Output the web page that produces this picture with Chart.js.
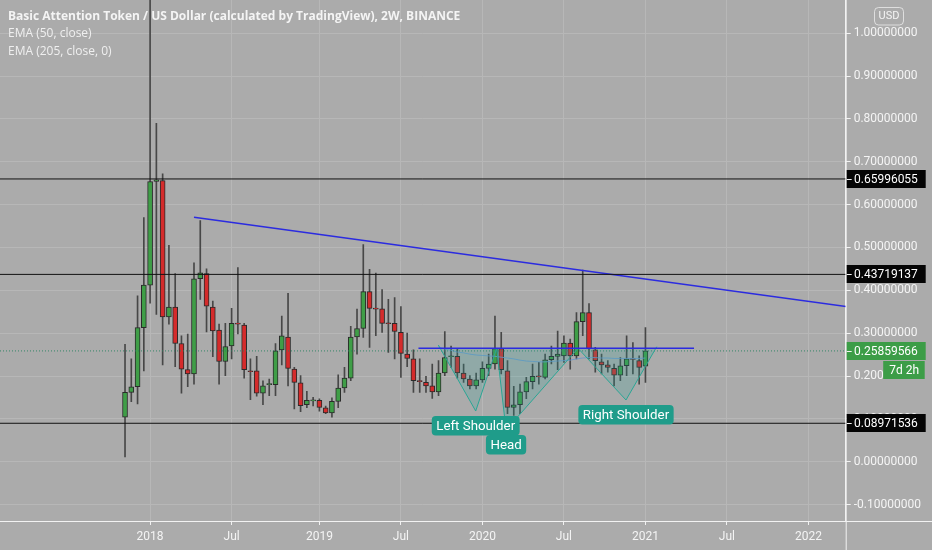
<!DOCTYPE html>
<html><head><meta charset="utf-8">
<script src="https://cdn.jsdelivr.net/npm/chart.js@4.4.1/dist/chart.umd.min.js"></script>
<style>
html,body{margin:0;padding:0;background:#ababab;overflow:hidden;}
#wrap{position:relative;width:932px;height:550px;}
</style></head><body>
<div id="wrap"><canvas id="c" width="932" height="550"></canvas></div>
<script>
// ---- data (2W candles, BAT/USD) ----
const opens = [0.104,0.162,0.175,0.313,0.412,0.654,0.656,0.338,0.361,0.276,
0.215,0.205,0.427,0.439,0.361,0.307,0.234,0.270,0.323,0.319,
0.212,0.212,0.160,0.180,0.180,0.261,0.291,0.216,0.184,0.133,
0.142,0.143,0.126,0.114,0.141,0.172,0.195,0.291,0.311,0.397,
0.358,0.357,0.323,0.323,0.302,0.251,0.240,0.189,0.185,0.177,
0.163,0.207,0.245,0.246,0.207,0.193,0.177,0.191,0.218,0.228,
0.264,0.212,0.127,0.133,0.163,0.187,0.199,0.197,0.238,0.246,
0.247,0.277,0.247,0.327,0.348,0.261,0.233,0.226,0.218,0.202,
0.224,0.240,0.236,0.223];
const highs = [0.274,0.240,0.387,0.570,1.120,0.790,0.672,0.505,0.439,0.294,
0.298,0.464,0.563,0.450,0.375,0.321,0.323,0.358,0.453,0.323,
0.240,0.246,0.189,0.193,0.276,0.340,0.393,0.220,0.201,0.164,
0.150,0.147,0.130,0.149,0.203,0.220,0.316,0.356,0.507,0.449,
0.440,0.402,0.379,0.383,0.362,0.300,0.261,0.240,0.199,0.228,
0.236,0.304,0.270,0.263,0.228,0.201,0.207,0.233,0.251,0.340,
0.302,0.236,0.176,0.181,0.197,0.228,0.232,0.251,0.270,0.305,
0.294,0.286,0.348,0.447,0.369,0.267,0.251,0.236,0.228,0.243,
0.294,0.278,0.247,0.313];
const lows = [0.011,0.140,0.135,0.212,0.370,0.344,0.226,0.321,0.222,0.160,
0.175,0.181,0.379,0.303,0.245,0.181,0.201,0.240,0.298,0.195,
0.145,0.153,0.133,0.154,0.154,0.226,0.177,0.123,0.117,0.126,
0.130,0.118,0.112,0.104,0.126,0.162,0.189,0.251,0.290,0.267,
0.294,0.302,0.255,0.240,0.197,0.222,0.162,0.162,0.162,0.148,
0.154,0.201,0.220,0.195,0.185,0.170,0.170,0.185,0.201,0.216,
0.205,0.112,0.108,0.112,0.147,0.170,0.181,0.193,0.228,0.215,
0.232,0.216,0.240,0.294,0.240,0.209,0.205,0.209,0.177,0.189,
0.201,0.205,0.181,0.185];
const closes = [0.162,0.175,0.313,0.412,0.654,0.658,0.338,0.361,0.276,0.216,
0.205,0.427,0.441,0.363,0.305,0.234,0.269,0.323,0.321,0.215,
0.210,0.160,0.177,0.181,0.259,0.294,0.218,0.185,0.131,0.143,
0.143,0.127,0.114,0.141,0.172,0.195,0.291,0.311,0.397,0.358,
0.356,0.323,0.322,0.304,0.253,0.241,0.189,0.187,0.177,0.163,
0.207,0.243,0.246,0.207,0.193,0.177,0.191,0.218,0.228,0.264,
0.215,0.127,0.133,0.163,0.187,0.199,0.198,0.238,0.246,0.251,
0.277,0.247,0.327,0.348,0.263,0.236,0.226,0.220,0.202,0.224,
0.240,0.239,0.220,0.25859566];

// EMA(50) as drawn, starting at bar 50
const emaStartBar = 50;
const ema50 = [0.268,0.263,0.260,0.256,0.254,0.251,0.249,0.248,0.247,0.246,
0.244,0.242,0.240,0.237,0.235,0.234,0.233,0.233,0.234,0.235,
0.236,0.237,0.240,0.242,0.243,0.243,0.242,0.242,0.241,0.241,
0.241,0.241,0.241,0.242];

// axis labels
const xTickLabels = ['2018','Jul','2019','Jul','2020','Jul','2021','Jul','2022'];
const xTickBars = [4,17,31,44,57,70,83,96,109];
const yTickValues = [-0.1,0,0.1,0.2,0.3,0.4,0.5,0.6,0.7,0.8,0.9,1.0];

// drawings
const levelLines = [0.65996055, 0.43719137, 0.08971536];
const lastPrice = 0.25859566;
const countdown = '7d 2h';
const trendBars = [11, 115];
const trendPrices = [0.5705, 0.362];
const neckBars = [46.8, 90.75];
const neckPrice = 0.2647;
const hsBars = [49.97, 55.93, 59.28, 60.77, 72.25, 79.9, 84.8];
const hsPrices = [0.2724, 0.1183, 0.2647, 0.074, 0.2647, 0.144, 0.2684];
const hsLabels = ['Left Shoulder', 'Head', 'Right Shoulder'];
const legendTexts = ['Basic Attention Token / US Dollar (calculated by TradingView), 2W, BINANCE', 'EMA (50, close)', 'EMA (205, close, 0)'];
const currencyLabel = 'USD';

// visible range
const X_MIN = -19.94, X_MAX = 114.94;
const Y_MIN = -0.1384, Y_MAX = 1.0777;

const GREEN = '#3f9e47', RED = '#d42b2b';
const bodies = opens.map((o, i) => ({x: i, y: [o, closes[i]]}));
const wicks = lows.map((l, i) => ({x: i, y: [l, highs[i]]}));
const bodyColors = opens.map((o, i) => closes[i] >= o ? GREEN : RED);
const emaData = ema50.map((v, k) => ({x: emaStartBar + k, y: v}));
const hsData = hsBars.map((b, k) => ({x: b, y: hsPrices[k]}));

const lineDs = (data, color, width, extra) => Object.assign({
  type: 'line', data, borderColor: color, borderWidth: width, pointRadius: 0,
  fill: false, tension: 0, order: 0
}, extra || {});

const datasets = [
  ...levelLines.map(v => lineDs([{x: X_MIN, y: v}, {x: X_MAX, y: v}], '#111111', 1)),
  lineDs(trendBars.map((b, k) => ({x: b, y: trendPrices[k]})), '#2b2be0', 1.5),
  lineDs(neckBars.map(b => ({x: b, y: neckPrice})), '#2b2be0', 1.5),
  lineDs(hsData, '#2aa594', 1, {fill: {value: neckPrice}, backgroundColor: 'rgba(38,166,154,0.20)'}),
  lineDs([{x: X_MIN, y: lastPrice}, {x: X_MAX, y: lastPrice}], 'rgba(40,130,95,0.9)', 1, {borderDash: [1, 2]}),
  lineDs(emaData, 'rgba(105,150,205,0.85)', 1),
  {type: 'bar', data: bodies, order: 1, barThickness: 5, grouped: false,
   backgroundColor: bodyColors, borderColor: '#2a2a2a', borderWidth: 1, borderSkipped: false, minBarLength: 1},
  {type: 'bar', data: wicks, order: 2, barThickness: 1, grouped: false,
   backgroundColor: '#474747', borderWidth: 0}
];

function rr(ctx, x, y, w, h, r) {
  ctx.beginPath();
  if (ctx.roundRect) ctx.roundRect(x, y, w, h, r); else ctx.rect(x, y, w, h);
}

const overlay = {
  id: 'overlay',
  afterDatasetsDraw(chart) {
    const {ctx, scales: {x, y}} = chart;
    ctx.save();
    ctx.font = '13.3px Roboto';
    ctx.textAlign = 'center';
    ctx.textBaseline = 'middle';
    hsLabels.forEach((t, k) => {
      const idx = 2 * k + 1;
      const px = x.getPixelForValue(hsBars[idx]);
      const py = y.getPixelForValue(hsPrices[idx]);
      const w = ctx.measureText(t).width + 9;
      const top = py + 5;
      ctx.fillStyle = '#1f9c8a';
      rr(ctx, px - w / 2, top, w, 19.5, 4);
      ctx.fill();
      ctx.fillStyle = '#ffffff';
      ctx.fillText(t, px, top + 10.5);
    });
    ctx.restore();
  },
  afterDraw(chart) {
    const {ctx, chartArea: ca, scales: {y}} = chart;
    ctx.save();
    // axis lines
    ctx.strokeStyle = '#f2f2f2'; ctx.lineWidth = 1;
    ctx.beginPath();
    ctx.moveTo(ca.right + 0.5, 0); ctx.lineTo(ca.right + 0.5, 550);
    ctx.moveTo(0, ca.bottom + 0.5); ctx.lineTo(932, ca.bottom + 0.5);
    ctx.stroke();
    // legend
    ctx.textAlign = 'left'; ctx.textBaseline = 'alphabetic';
    ctx.fillStyle = '#f4f4f4';
    ctx.font = 'bold 12px "Open Sans"';
    ctx.fillText(legendTexts[0], 8, 20);
    ctx.font = '12px "Open Sans"';
    ctx.fillStyle = '#efefef';
    ctx.fillText(legendTexts[1], 8, 37);
    ctx.fillText(legendTexts[2], 8, 54.5);
    // price tags
    const tag = (v, bg, text) => {
      const py = y.getPixelForValue(v);
      ctx.fillStyle = bg;
      ctx.fillRect(ca.right + 1, Math.round(py) - 9, 79, 18);
      ctx.strokeStyle = '#f4f4f4';
      ctx.beginPath(); ctx.moveTo(ca.right + 1, Math.round(py) + 0.5); ctx.lineTo(ca.right + 6, Math.round(py) + 0.5); ctx.stroke();
      ctx.fillStyle = '#ffffff';
      ctx.font = '12px Roboto';
      ctx.textAlign = 'left'; ctx.textBaseline = 'middle';
      ctx.fillText(text, ca.right + 8.3, Math.round(py) + 0.5);
      return py;
    };
    levelLines.forEach(v => tag(v, '#050505', v.toFixed(8)));
    const lp = tag(lastPrice, '#3c9d47', lastPrice.toFixed(8));
    ctx.fillStyle = '#3c9d47';
    ctx.fillRect(ca.right + 37.5, Math.round(lp) + 10, 41.5, 18);
    ctx.fillStyle = '#ffffff';
    ctx.textAlign = 'center';
    ctx.fillText(countdown, ca.right + 58.5, Math.round(lp) + 19.5);
    // currency box
    ctx.strokeStyle = 'rgba(235,235,235,0.8)';
    rr(ctx, 874.5, 7.5, 29, 17.5, 4);
    ctx.stroke();
    ctx.fillStyle = '#f4f4f4';
    ctx.font = '11px Roboto';
    ctx.fillText(currencyLabel, 889, 16.5);
    ctx.restore();
  }
};

new Chart(document.getElementById('c'), {
  type: 'bar',
  data: {datasets},
  plugins: [overlay],
  options: {
    responsive: false,
    animation: false,
    devicePixelRatio: 1,
    layout: {padding: 0},
    plugins: {legend: {display: false}, tooltip: {enabled: false}},
    scales: {
      x: {
        type: 'linear', min: X_MIN, max: X_MAX, offset: false,
        afterBuildTicks: s => { s.ticks = xTickBars.map(v => ({value: v})); },
        afterFit: s => { s.height = 29; s.paddingLeft = 0; s.paddingRight = 0; },
        ticks: {autoSkip: false, maxRotation: 0, color: '#f4f4f4', font: {family: 'Roboto', size: 12}, padding: 5,
          callback: v => { const k = xTickBars.indexOf(v); return k >= 0 ? xTickLabels[k] : ''; }},
        grid: {color: '#b7b7b7', tickColor: '#f2f2f2', tickLength: 4, offset: false},
        border: {color: '#f2f2f2', width: 1}
      },
      y: {
        type: 'linear', position: 'right', min: Y_MIN, max: Y_MAX,
        afterBuildTicks: s => { s.ticks = yTickValues.map(v => ({value: v})); },
        afterFit: s => { s.width = 86.3; s.paddingTop = 0; s.paddingBottom = 0; },
        ticks: {color: '#f4f4f4', font: {family: 'Roboto', size: 12}, padding: 3,
          callback: v => v.toFixed(8)},
        grid: {color: '#b7b7b7', tickColor: '#f2f2f2', tickLength: 5, offset: false},
        border: {color: '#f2f2f2', width: 1}
      }
    }
  }
});
</script>
</body></html>
